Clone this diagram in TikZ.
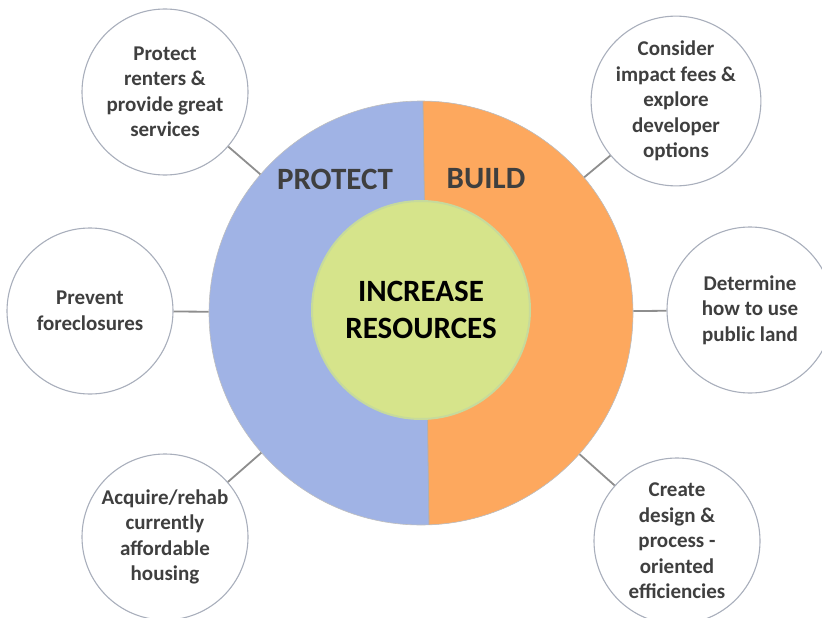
\documentclass[tikz,border=0pt]{standalone}
\usepackage{fontspec}
\setmainfont{Carlito}
\definecolor{protectblue}{HTML}{A0B3E5}
\definecolor{buildorange}{HTML}{FDA85E}
\definecolor{coregreen}{HTML}{D6E48B}
\definecolor{coreedge}{HTML}{C6DA9C}
\definecolor{satedge}{HTML}{A9AFBC}
\definecolor{linkgray}{HTML}{8E8E8E}
\definecolor{labelgray}{HTML}{3F3F3F}
\tikzset{
  sat/.style={circle, draw=satedge, line width=1.1pt, fill=white, minimum size=166pt, inner sep=0pt,
    align=center, text=labelgray, font=\fontsize{21}{25.5}\selectfont\bfseries},
  link/.style={draw=linkgray, line width=1.8pt},
  bigtitle/.style={text=labelgray, font=\fontsize{31}{36}\selectfont\bfseries},
}
\begin{document}
\begin{tikzpicture}[x=1pt,y=-1pt]
\useasboundingbox (0,0) rectangle (822,618);
% big circle halves
\fill[protectblue] (421,313) circle (212);
\begin{scope}
  \clip (421,313) circle (212);
  \fill[buildorange] (422.8,90) -- (700,90) -- (700,540) -- (429.2,540) -- cycle;
  \draw[linkgray!70, line width=0.8pt] (422.8,90) -- (429.2,540);
\end{scope}
\node[circle, draw=gray!50, line width=0.6pt, minimum size=424pt, inner sep=0pt] (big) at (421,313) {};
\node[circle, fill=coregreen, draw=coreedge, line width=2pt, minimum size=218pt, inner sep=0pt,
  align=center, font=\fontsize{31}{36.5}\selectfont\bfseries, text=black] (core) at (421,310)
  {INCREASE\\RESOURCES};
\node[bigtitle] (protect) at (335,179) {PROTECT};
\node[bigtitle] (build) at (486,179) {BUILD};
% satellites
\node[sat] (tl) at (165,92) {Protect\\renters \&\\provide great\\services};
\node[sat] (ml) at (90,311) {Prevent\\foreclosures};
\node[sat] (bl) at (165,537) {Acquire/rehab\\currently\\affordable\\housing};
\node[sat] (tr) at (676,101) {Consider\\impact fees \&\\explore\\developer\\options};
\node[sat] (mr) at (750,310) {Determine\\how to use\\public land};
\node[sat] (br) at (677,541) {Create\\design \&\\process -\\oriented\\efficiencies};
% connectors
\foreach \s in {tl,ml,bl,tr,mr,br} {
  \draw[link] (\s) -- (big);
}
\end{tikzpicture}
\end{document}
